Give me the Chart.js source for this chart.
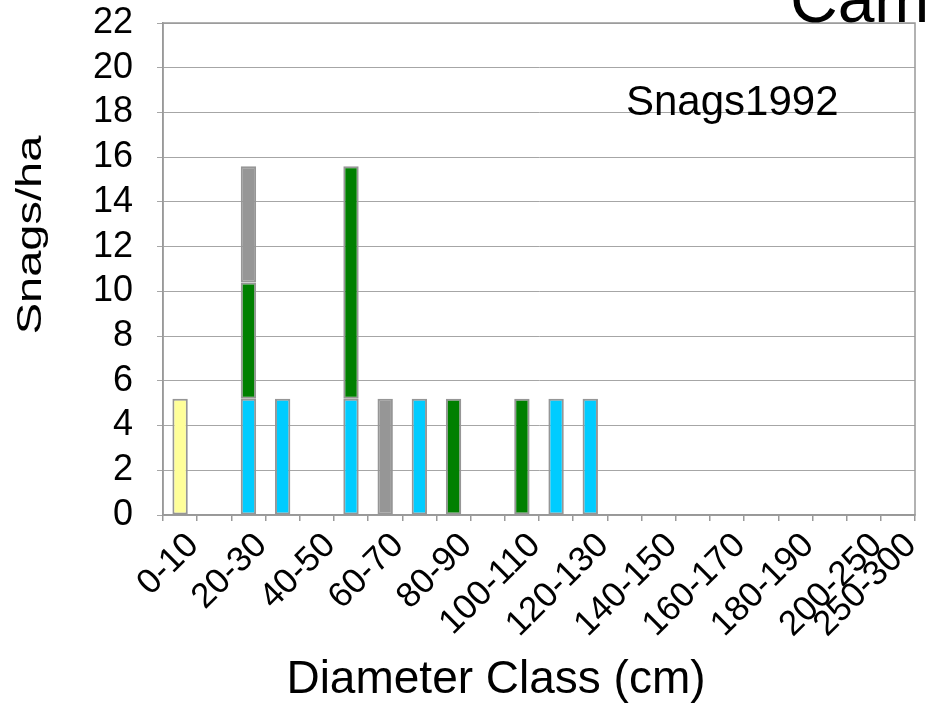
<!DOCTYPE html>
<html>
<head>
<meta charset="utf-8">
<script src="https://cdn.jsdelivr.net/npm/chart.js@4.4.1/dist/chart.umd.min.js"></script>
<style>
  html, body { margin: 0; padding: 0; background: #fff; }
  canvas { display: block; }
</style>
</head>
<body>
<canvas id="snagsChart" width="929" height="711"></canvas>
<script>
(() => {
  "use strict";

  // ── data: snags per hectare by diameter class ──────────────────────
  const diameterClasses = [
    "0-10", "10-20", "20-30", "30-40", "40-50", "50-60", "60-70", "70-80",
    "80-90", "90-100", "100-110", "110-120", "120-130", "130-140", "140-150",
    "150-160", "160-170", "170-180", "180-190", "190-200", "200-250", "250-300",
  ];
  const yellowSnags = [5.2, null, null, null, null, null, null, null, null, null, null,
    null, null, null, null, null, null, null, null, null, null, null];
  const blueSnags = [null, null, 5.2, 5.2, null, 5.2, null, 5.2, null, null, null,
    5.2, 5.2, null, null, null, null, null, null, null, null, null];
  const greenSnags = [null, null, 5.2, null, null, 10.4, null, null, 5.2, null, 5.2,
    null, null, null, null, null, null, null, null, null, null, null];
  const greySnags = [null, null, 5.2, null, null, null, 5.2, null, null, null, null,
    null, null, null, null, null, null, null, null, null, null, null];
  const yTicks = [0, 2, 4, 6, 8, 10, 12, 14, 16, 18, 20, 22];

  const FONT = "'Liberation Sans', Arial, Helvetica, sans-serif";
  const axisGrey = "#999999";
  const barEdge = "#969696";

  // free-standing texts and the plot frame
  const decorations = {
    id: "decorations",
    afterDraw(chart) {
      const { ctx, chartArea: a } = chart;
      ctx.save();
      ctx.strokeStyle = axisGrey;
      ctx.lineWidth = 1.5;
      ctx.strokeRect(a.left, a.top, a.right - a.left, a.bottom - a.top);

      ctx.fillStyle = "#000";
      ctx.textBaseline = "alphabetic";
      ctx.textAlign = "left";
      ctx.font = `66px ${FONT}`;
      ctx.fillText("Cam", 790, 22);
      ctx.font = `42px ${FONT}`;
      ctx.fillText("Snags1992", 626, 115);

      ctx.textAlign = "center";
      ctx.textBaseline = "middle";
      ctx.font = `46px ${FONT}`;
      ctx.fillText("Diameter Class (cm)", 496, 680);

      ctx.translate(31, 235);
      ctx.rotate(-Math.PI / 2);
      ctx.scale(1, 0.75);
      ctx.font = `47px ${FONT}`;
      ctx.fillText("Snags/ha", 0, 0);
      ctx.restore();
    },
  };

  const series = (label, data, color) => ({
    label,
    data,
    backgroundColor: color,
    borderColor: barEdge,
    borderWidth: 2,
    borderSkipped: false,
    barPercentage: 0.45,
    categoryPercentage: 1,
  });

  new Chart(document.getElementById("snagsChart"), {
    type: "bar",
    data: {
      labels: diameterClasses,
      datasets: [
        series("Yellow", yellowSnags, "#ffff99"),
        series("Blue", blueSnags, "#00ccff"),
        series("Green", greenSnags, "#008000"),
        series("Grey", greySnags, "#969696"),
      ],
    },
    options: {
      responsive: false,
      animation: false,
      layout: { padding: { top: 23, right: 14, left: 0, bottom: 0 } },
      plugins: { legend: { display: false }, tooltip: { enabled: false } },
      scales: {
        x: {
          stacked: true,
          afterFit: (s) => {
            s.height = 196;
            s.paddingLeft = 0;
            s.paddingRight = 0;
          },
          grid: { drawOnChartArea: false, drawTicks: true, tickLength: 6, color: axisGrey, lineWidth: 1.5 },
          border: { color: axisGrey, width: 1.5 },
          ticks: {
            autoSkip: false,
            minRotation: 45,
            maxRotation: 45,
            padding: 4,
            labelOffset: 13,
            color: "#000",
            font: { family: FONT, size: 35 },
            callback: (v, i) =>
              i % 2 === 0 || i === diameterClasses.length - 1 ? diameterClasses[i] : "",
          },
        },
        y: {
          stacked: true,
          min: yTicks[0],
          max: yTicks[yTicks.length - 1],
          afterFit: (s) => {
            s.width = 163;
            s.paddingTop = 0;
            s.paddingBottom = 0;
          },
          afterBuildTicks: (s) => { s.ticks = yTicks.map((v) => ({ value: v })); },
          grid: { color: "#a6a6a6", lineWidth: 1, tickLength: 6 },
          border: { color: axisGrey, width: 1.5 },
          ticks: {
            autoSkip: false,
            padding: 24,
            color: "#000",
            font: { family: FONT, size: 36 },
          },
        },
      },
    },
    plugins: [decorations],
  });
})();
</script>
</body>
</html>
